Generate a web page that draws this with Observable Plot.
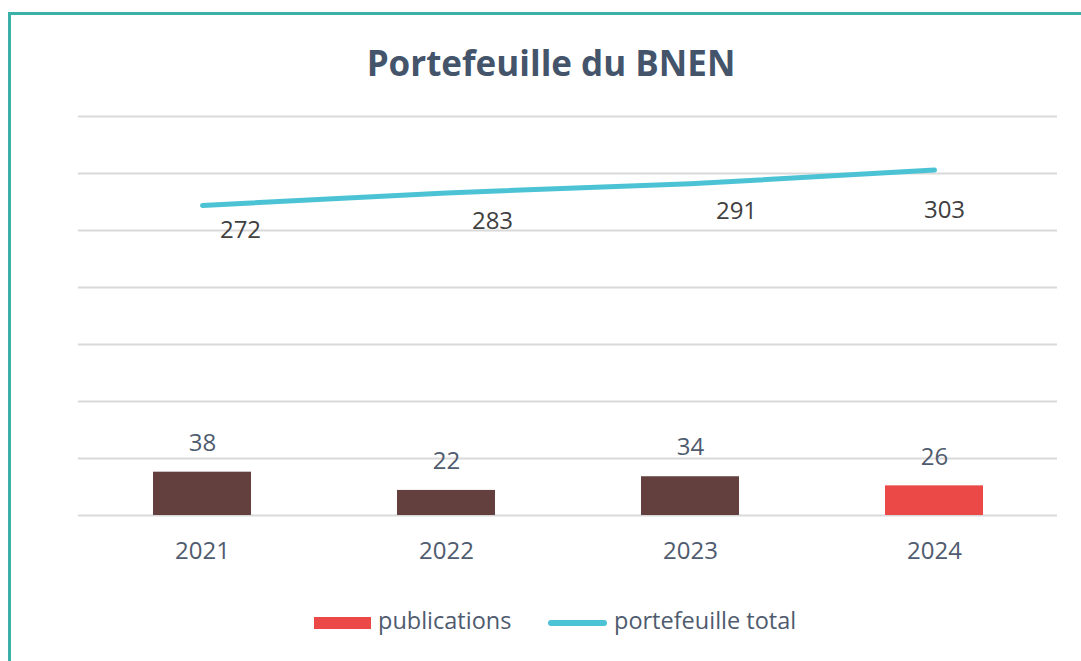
<!DOCTYPE html>
<html>
<head>
<meta charset="utf-8">
<script src="https://cdn.jsdelivr.net/npm/d3@7"></script>
<script src="https://cdn.jsdelivr.net/npm/@observablehq/plot@0.6"></script>
<style>
  html, body { margin: 0; padding: 0; background: #fff; width: 1081px; height: 661px; overflow: hidden; }
  #frame { position: absolute; left: 8px; top: 12px; right: -10px; bottom: -10px; border-left: 3px solid #3AB0A8; border-top: 3px solid #3AB0A8; }
  #title { position: absolute; left: 0; width: 1102px; top: 45px; text-align: center; font-family: "Open Sans", sans-serif; font-weight: 700; font-size: 35px; line-height: 1; color: #44546A; }
  #chart { position: absolute; left: 0; top: 90px; }
  .leg { position: absolute; font-family: "Open Sans", sans-serif; font-size: 23.5px; line-height: 1; color: #4F5B6E; top: 609px; }
  .sw { position: absolute; }
</style>
</head>
<body>
<div id="frame"></div>
<div id="title">Portefeuille du BNEN</div>
<div id="chart"></div>
<div class="sw" style="left:314px; top:617px; width:57px; height:12px; background:#EB4848;"></div>
<div class="leg" style="left:378px;">publications</div>
<div class="sw" style="left:548px; top:620px; width:59px; height:6px; border-radius:3px; background:#4BC3D5;"></div>
<div class="leg" style="left:614px;">portefeuille total</div>
<script>
const years = ["2021", "2022", "2023", "2024"];
const publications = [38, 22, 34, 26];
const portefeuilleTotal = [272, 283, 291, 303];
const yTicks = [0, 50, 100, 150, 200, 250, 300, 350];

const brown = "#633F3E";
const red = "#EB4848";
const data = years.map((y, i) => ({year: y, pub: publications[i], tot: portefeuilleTotal[i], last: i === years.length - 1}));

// label nudges of the line's data labels (style, as placed in the original)
const lineLabelNudge = [[38, 25], [46, 28], [46, 28], [10, 40]];

const chart = Plot.plot({
  width: 1081,
  height: 490,
  marginLeft: 78,
  marginRight: 24,
  marginTop: 26,
  marginBottom: 65,
  style: {fontFamily: "Open Sans, sans-serif", fontSize: "24px", color: "#4F5B6E", background: "transparent"},
  x: {type: "band", domain: years, paddingInner: 0.6, paddingOuter: 0.3, label: null},
  y: {domain: [0, 350], axis: null},
  marks: [
    Plot.ruleY(yTicks, {stroke: "#D9D9D9", strokeWidth: 2}),
    Plot.barY(data, {x: "year", y: "pub", fill: d => d.last ? red : brown}),
    Plot.text(data, {x: "year", y: "pub", text: d => String(d.pub), dy: -29, fill: "#4F5B6E", fontSize: 24}),
    Plot.line(data, {x: "year", y: "tot", stroke: "#4BC3D5", strokeWidth: 5, strokeLinecap: "round"}),
    ...data.map((d, i) => Plot.text([d], {x: "year", y: "tot", text: e => String(e.tot), dx: lineLabelNudge[i][0], dy: lineLabelNudge[i][1], fill: "#404040", fontSize: 24})),
    Plot.axisX({tickSize: 0, tickPadding: 26, fontSize: 24, fill: "#4F5B6E", label: null})
  ]
});
document.getElementById("chart").appendChild(chart);
</script>
</body>
</html>
